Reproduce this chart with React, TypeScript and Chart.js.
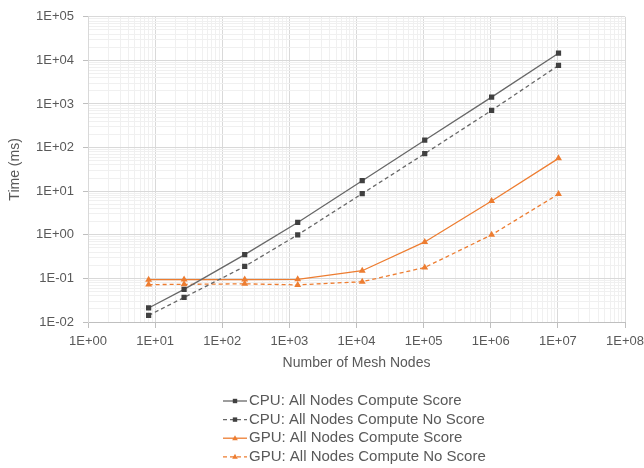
import React, { useEffect, useRef } from "react";
import { Chart, registerables } from "chart.js";

Chart.register(...registerables);

const meshNodes = [8, 27, 216, 1331, 12167, 103823, 1030301, 10218313];
const cpuScore = [0.021, 0.056, 0.35, 1.92, 17.4, 148, 1436, 14650];
const cpuNoScore = [0.0142, 0.0365, 0.188, 1.0, 8.8, 72.6, 715, 7680];
const gpuScore = [0.0935, 0.094, 0.094, 0.095, 0.15, 0.686, 5.96, 56.7];
const gpuNoScore = [0.072, 0.073, 0.075, 0.071, 0.084, 0.178, 1.0, 8.6];
const seriesLabels = [
  "CPU: All Nodes Compute Score",
  "CPU: All Nodes Compute No Score",
  "GPU: All Nodes Compute Score",
  "GPU: All Nodes Compute No Score",
];
const xTitle = "Number of Mesh Nodes";
const yTitle = "Time (ms)";
const xExpRange = [0, 8];
const yExpRange = [-2, 5];

const GRAY_LINE = "#686868";
const GRAY_PT = "#404040";
const ORANGE = "#ED7D31";
const TEXT = "#595959";
const FONT = "'Liberation Sans', Arial, sans-serif";

function logTicks(lo: number, hi: number) {
  const out: { value: number }[] = [];
  for (let e = lo; e <= hi; e++) {
    for (let m = 1; m <= 9; m++) {
      if (e === hi && m > 1) break;
      out.push({ value: m * Math.pow(10, e) });
    }
  }
  return out;
}

function isMajor(v: number) {
  const l = Math.log10(v);
  return Math.abs(l - Math.round(l)) < 1e-9;
}

function fmt(v: number) {
  if (!isMajor(v)) return "";
  const e = Math.round(Math.log10(v));
  const s = e < 0 ? "-" : "+";
  const a = Math.abs(e);
  return "1E" + s + (a < 10 ? "0" + a : String(a));
}

const legendPlugin = {
  id: "vertLegend",
  afterDraw(chart: any) {
    const ctx = chart.ctx;
    ctx.save();
    const x0 = 223;
    const lineLen = 24;
    chart.data.datasets.forEach((ds: any, i: number) => {
      const y = 401 + i * 18.6;
      ctx.strokeStyle = ds.borderColor;
      ctx.lineWidth = 1.3;
      ctx.setLineDash(ds.borderDash || []);
      ctx.beginPath();
      ctx.moveTo(x0, y);
      ctx.lineTo(x0 + lineLen, y);
      ctx.stroke();
      ctx.setLineDash([]);
      ctx.fillStyle = ds.pointBackgroundColor;
      const cx = x0 + lineLen / 2;
      if (ds.pointStyle === "rect") {
        ctx.fillRect(cx - 2.2, y - 2.2, 4.4, 4.4);
      } else {
        ctx.beginPath();
        ctx.moveTo(cx, y - 3);
        ctx.lineTo(cx + 2.8, y + 2);
        ctx.lineTo(cx - 2.8, y + 2);
        ctx.closePath();
        ctx.fill();
      }
      ctx.fillStyle = TEXT;
      ctx.font = "15px " + FONT;
      ctx.textBaseline = "middle";
      ctx.textAlign = "left";
      ctx.fillText(ds.label, x0 + lineLen + 2, y);
    });
    ctx.restore();
  },
};

export default function App() {
  const ref = useRef<HTMLCanvasElement | null>(null);
  useEffect(() => {
    document.body.style.margin = "0";
    const canvas = ref.current!;
    const mk = (vals: number[]) => meshNodes.map((x, i) => ({ x, y: vals[i] }));
    const gridColor = (c: any) =>
      c.tick && isMajor(c.tick.value) ? "#d9d9d9" : "#f0f0f0";
    const tickColor = (c: any) =>
      c.tick && isMajor(c.tick.value) ? "#bfbfbf" : "rgba(0,0,0,0)";
    const common = { pointRadius: 3.7, pointBorderWidth: 0, borderWidth: 1.3 };
    const chart = new Chart(canvas, {
      type: "line",
      data: {
        datasets: [
          {
            label: seriesLabels[0],
            data: mk(cpuScore),
            borderColor: GRAY_LINE,
            backgroundColor: GRAY_PT,
            pointBackgroundColor: GRAY_PT,
            pointBorderColor: GRAY_PT,
            pointStyle: "rect",
            ...common,
          },
          {
            label: seriesLabels[1],
            data: mk(cpuNoScore),
            borderColor: GRAY_LINE,
            backgroundColor: GRAY_PT,
            pointBackgroundColor: GRAY_PT,
            pointBorderColor: GRAY_PT,
            pointStyle: "rect",
            borderDash: [4, 3],
            ...common,
          },
          {
            label: seriesLabels[2],
            data: mk(gpuScore),
            borderColor: ORANGE,
            backgroundColor: ORANGE,
            pointBackgroundColor: ORANGE,
            pointBorderColor: ORANGE,
            pointStyle: "triangle",
            ...common,
            pointRadius: 4,
          },
          {
            label: seriesLabels[3],
            data: mk(gpuNoScore),
            borderColor: ORANGE,
            backgroundColor: ORANGE,
            pointBackgroundColor: ORANGE,
            pointBorderColor: ORANGE,
            pointStyle: "triangle",
            borderDash: [4, 3],
            ...common,
            pointRadius: 4,
          },
        ],
      } as any,
      options: {
        responsive: false,
        animation: false,
        layout: { padding: { top: 14, left: 0, right: 0, bottom: 96 } },
        plugins: {
          legend: { display: false },
          tooltip: { enabled: false },
        },
        scales: {
          x: {
            type: "logarithmic",
            min: Math.pow(10, xExpRange[0]),
            max: Math.pow(10, xExpRange[1]),
            afterBuildTicks: (axis: any) => {
              axis.ticks = logTicks(xExpRange[0], xExpRange[1]);
            },
            afterFit: (scale: any) => {
              scale.height = 50;
              scale.paddingRight = 19;
            },
            ticks: {
              autoSkip: false,
              maxRotation: 0,
              minRotation: 0,
              padding: 6,
              color: TEXT,
              font: { family: FONT, size: 13 },
              callback: (v: any) => fmt(Number(v)),
            },
            grid: { color: gridColor, tickColor: tickColor, tickLength: 6 },
            border: { color: "#bfbfbf" },
            title: {
              display: true,
              text: xTitle,
              color: TEXT,
              font: { family: FONT, size: 14 },
              padding: { top: 0, bottom: 0 },
            },
          },
          y: {
            type: "logarithmic",
            min: Math.pow(10, yExpRange[0]),
            max: Math.pow(10, yExpRange[1]),
            afterBuildTicks: (axis: any) => {
              axis.ticks = logTicks(yExpRange[0], yExpRange[1]);
            },
            afterFit: (scale: any) => {
              scale.width = 88;
            },
            ticks: {
              autoSkip: false,
              padding: 9,
              color: TEXT,
              font: { family: FONT, size: 13 },
              callback: (v: any) => fmt(Number(v)),
            },
            grid: { color: gridColor, tickColor: tickColor, tickLength: 5 },
            border: { color: "#d9d9d9" },
            title: {
              display: true,
              text: yTitle,
              color: TEXT,
              font: { family: FONT, size: 14 },
              padding: { top: 7, bottom: 0 },
            },
          },
        },
      },
      plugins: [legendPlugin],
    } as any);
    return () => chart.destroy();
  }, []);
  return (
    <div style={{ width: 644, height: 468, background: "#fff" }}>
      <canvas ref={ref} width={644} height={468} style={{ display: "block", width: 644, height: 468 }} />
    </div>
  );
}
